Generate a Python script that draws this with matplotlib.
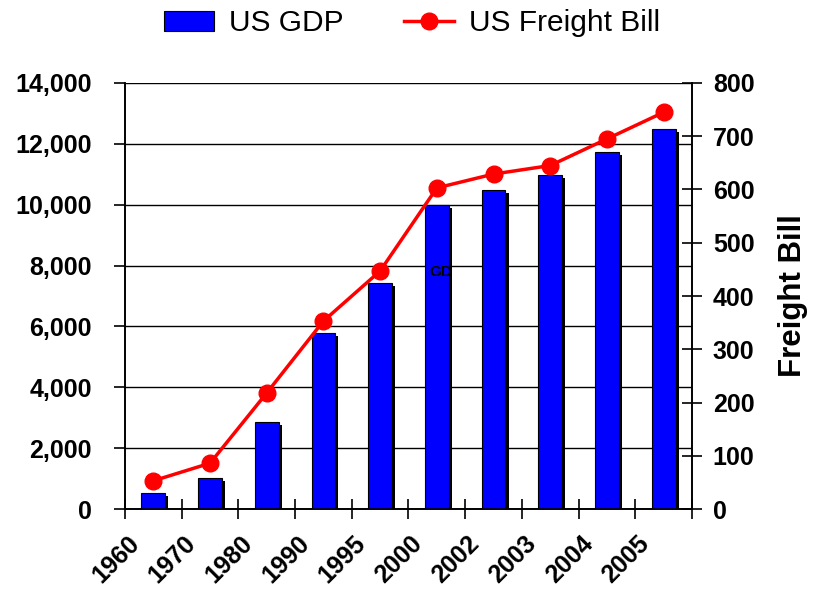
import matplotlib
matplotlib.use("Agg")
import matplotlib.pyplot as plt
import matplotlib.transforms as mtransforms
import numpy as np
from matplotlib.patches import Patch
from matplotlib.lines import Line2D

plt.rcParams['font.family'] = ['Liberation Sans', 'DejaVu Sans']

# US GDP (billions) and US freight bill (billions)
anos = ["1960", "1970", "1980", "1990", "1995", "2000", "2002", "2003", "2004", "2005"]
gdp = [527, 1030, 2860, 5800, 7420, 10000, 10490, 10990, 11730, 12500]
frete = [53, 86, 218, 353, 447, 603, 629, 645, 695, 745]

x = np.arange(len(anos))

fig = plt.figure(figsize=(8.24, 5.92), dpi=100)
ax = fig.add_axes([0.1517, 0.1402, 0.6881, 0.7196])
ax2 = ax.twinx()

# shadow behind each bar
larg = 0.42
dx, dy = 0.055, 100
ax.bar(x + dx, np.array(gdp) - dy, width=larg, color="black", zorder=2)
ax.bar(x, gdp, width=larg, color="#0000FF", edgecolor="black", linewidth=0.8, zorder=3)

ax.set_xlim(-0.5, len(anos) - 0.5)
ax.set_ylim(0, 14000)
ax.set_yticks(np.arange(0, 14001, 2000))
ax.set_yticklabels(["{:,}".format(v) for v in range(0, 14001, 2000)])
ax.grid(axis="y", color="black", linewidth=1.0, zorder=0)
ax.set_axisbelow(True)

ax.set_xticks(x)
ax.set_xticklabels(anos, rotation=45, ha="right", va="center", rotation_mode="anchor")
ax.set_xticks(np.arange(-0.5, len(anos), 1), minor=True)
ax.tick_params(axis="x", which="major", length=0, pad=0)
ax.tick_params(axis="x", which="minor", direction="inout", length=14, width=1.2)
ax.tick_params(axis="y", direction="out", length=8, width=1.2, pad=16)

desloc = mtransforms.ScaledTranslation(-0.18, -0.31, fig.dpi_scale_trans)
for lab in ax.get_xticklabels():
    lab.set_transform(lab.get_transform() + desloc)

for lab in ax.get_xticklabels() + ax.get_yticklabels():
    lab.set_fontsize(18)
    lab.set_fontweight("bold")

ax2.plot(x, frete, color="red", linewidth=2.5, marker="o", markersize=12, zorder=4)
ax2.set_ylim(0, 800)
ax2.set_yticks(np.arange(0, 801, 100))
ax2.tick_params(axis="y", direction="inout", length=14, width=1.2, pad=8)
for lab in ax2.get_yticklabels():
    lab.set_fontsize(18)
    lab.set_fontweight("bold")
ax2.set_ylabel("Freight Bill", fontsize=22.5, fontweight="bold", labelpad=17)

for a in (ax, ax2):
    for s in a.spines.values():
        s.set_linewidth(1.2)
    a.spines["top"].set_visible(False)

ax.text(4.86, 7790, "GD", fontsize=11, fontweight="bold", va="center", ha="left", zorder=5)

# legenda
handles = [
    Patch(facecolor="#0000FF", edgecolor="black", linewidth=0.8),
    Line2D([], [], color="red", linewidth=2.5, marker="o", markersize=12),
]
fig.legend(handles, ["US GDP", "US Freight Bill"], loc="upper center",
           bbox_to_anchor=(0.5, 1.03), ncol=2, frameon=False, fontsize=21.5,
           handlelength=1.7, handleheight=0.65, columnspacing=2.0, handletextpad=0.5)

plt.savefig("out.png", dpi=100)
